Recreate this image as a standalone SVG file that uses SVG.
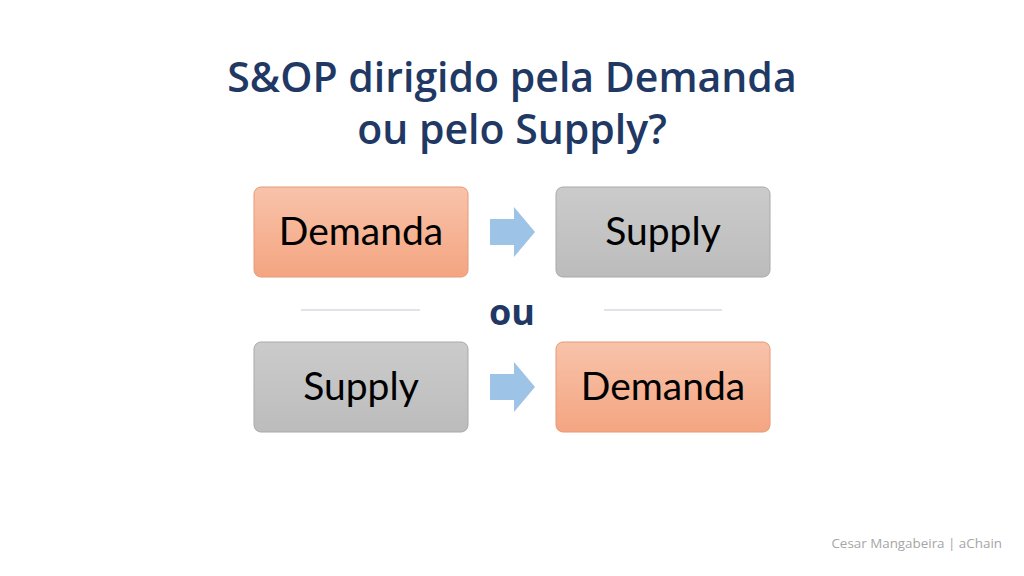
<svg xmlns="http://www.w3.org/2000/svg" width="1024" height="576" viewBox="0 0 1024 576">
<defs>
<linearGradient id="gO" x1="0" y1="0" x2="0" y2="1"><stop offset="0" stop-color="#f8c3aa"/><stop offset="1" stop-color="#f4a581"/></linearGradient>
<linearGradient id="gG" x1="0" y1="0" x2="0" y2="1"><stop offset="0" stop-color="#cbcbcb"/><stop offset="1" stop-color="#bcbcbc"/></linearGradient>
</defs>
<style>
.t{font-family:"Open Sans","Liberation Sans",sans-serif;font-weight:600;font-size:41px;fill:#1f3864;text-anchor:middle}
.b{font-family:Lato,"Liberation Sans",sans-serif;font-size:39px;fill:#000;text-anchor:middle}
.o{stroke:#e59a78;stroke-width:1;fill:url(#gO)}
.g{stroke:#a9a9a9;stroke-width:1;fill:url(#gG)}
.arr{fill:#9dc3e6}
.sep{stroke:#d6dbe2;stroke-width:1.5}
</style>
<rect width="1024" height="576" fill="#fff"/>
<g id="title">
<text class="t" x="512" y="92">S&amp;OP dirigido pela Demanda</text>
<text class="t" x="512" y="144">ou pelo Supply?</text>
</g>
<g id="n1"><rect class="o" x="254" y="187" width="214" height="90" rx="7"/><text class="b" x="361" y="245">Demanda</text></g>
<g id="n2"><rect class="g" x="556" y="187" width="214" height="90" rx="7"/><text class="b" x="663" y="245">Supply</text></g>
<g id="n3"><rect class="g" x="254" y="342" width="214" height="90" rx="7"/><text class="b" x="361" y="400">Supply</text></g>
<g id="n4"><rect class="o" x="556" y="342" width="214" height="90" rx="7"/><text class="b" x="663" y="400">Demanda</text></g>
<g id="connectors">
<polygon class="arr" points="490,219 514,219 514,207 535,232 514,257 514,245 490,245"/>
<polygon class="arr" points="490,374 514,374 514,362 535,387 514,412 514,400 490,400"/>
<line class="sep" x1="301" y1="310" x2="420" y2="310"/>
<line class="sep" x1="604" y1="310" x2="722" y2="310"/>
</g>
<text x="512" y="325" style="font-family:'Open Sans','Liberation Sans',sans-serif;font-weight:700;font-size:36px;fill:#1f3864;text-anchor:middle">ou</text>
<text x="1002" y="548" style="font-family:'Open Sans','Liberation Sans',sans-serif;font-size:13.4px;fill:#a6a6a6;text-anchor:end">Cesar Mangabeira | aChain</text>
</svg>
